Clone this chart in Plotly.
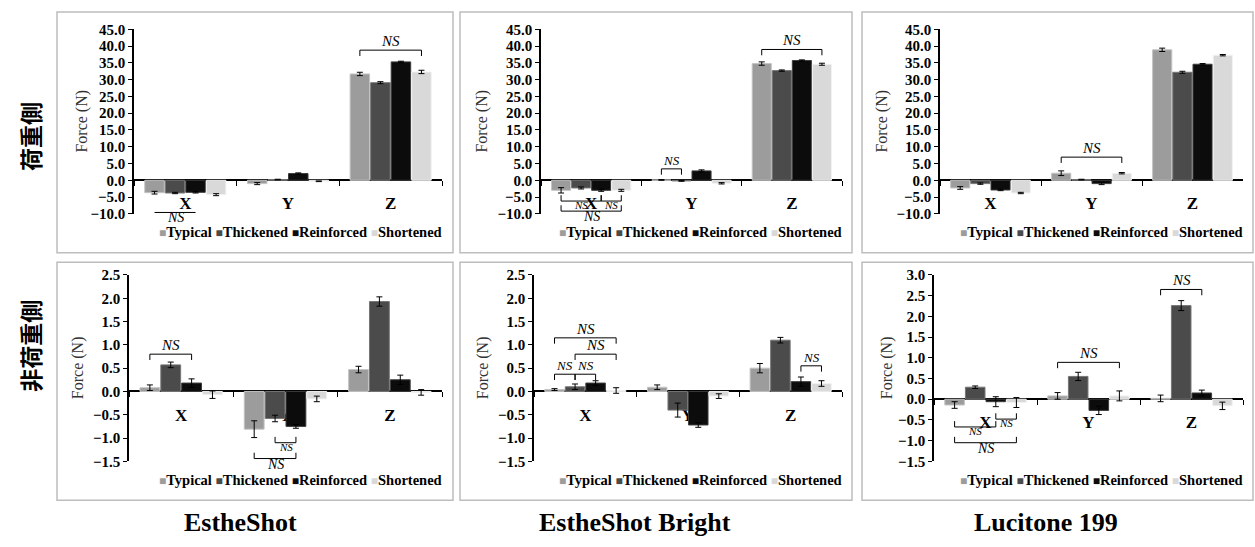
import plotly.graph_objects as go

W, H = 1255, 547

categories = ["X", "Y", "Z"]
series_names = ["Typical", "Thickened", "Reinforced", "Shortened"]
material_titles = ["EstheShot", "EstheShot Bright", "Lucitone 199"]
row_titles = ["荷重側", "非荷重側"]
y_title = "Force (N)"
ns_label = "NS"

# Mean force (N); rows = Typical, Thickened, Reinforced, Shortened ; columns = X, Y, Z
esthe_load = [[-3.7, -1.0, 31.7], [-3.8, 0.2, 29.1], [-3.6, 2.0, 35.3], [-4.3, -0.3, 32.3]]
esthe_load_sd = [[0.4, 0.3, 0.5], [0.2, 0.1, 0.3], [0.2, 0.2, 0.2], [0.3, 0.1, 0.5]]
bright_load = [[-3.0, 0.1, 34.8], [-2.3, -0.2, 32.7], [-3.0, 2.8, 35.7], [-3.0, -0.9, 34.6]]
bright_load_sd = [[0.8, 0.1, 0.5], [0.3, 0.1, 0.2], [0.3, 0.3, 0.2], [0.3, 0.2, 0.3]]
lucitone_load = [[-2.3, 2.1, 38.9], [-1.0, 0.2, 32.2], [-2.9, -1.0, 34.6], [-3.8, 2.1, 37.3]]
lucitone_load_sd = [[0.4, 0.7, 0.5], [0.2, 0.1, 0.3], [0.2, 0.3, 0.2], [0.2, 0.2, 0.2]]
esthe_free = [[0.08, -0.81, 0.47], [0.57, -0.58, 1.93], [0.18, -0.75, 0.25], [-0.07, -0.16, -0.02]]
esthe_free_sd = [[0.06, 0.18, 0.07], [0.06, 0.07, 0.10], [0.09, 0.04, 0.10], [0.08, 0.06, 0.06]]
bright_free = [[0.04, 0.09, 0.50], [0.10, -0.40, 1.10], [0.18, -0.72, 0.21], [0.02, -0.10, 0.17]]
bright_free_sd = [[0.02, 0.05, 0.10], [0.06, 0.15, 0.06], [0.05, 0.05, 0.10], [0.06, 0.05, 0.06]]
lucitone_free = [[-0.14, 0.08, 0.02], [0.29, 0.55, 2.26], [-0.06, -0.27, 0.15], [-0.08, 0.08, -0.16]]
lucitone_free_sd = [[0.08, 0.08, 0.08], [0.03, 0.10, 0.12], [0.12, 0.10, 0.07], [0.12, 0.12, 0.09]]

# NS brackets: (panel, category index, from series, to series, y level, side, font size)
ns_brackets = [
    (0, 2, 0, 3, 38.8, "above", 15),
    (0, 0, 0, 2, -9.6, "flat", 14),
    (1, 2, 0, 3, 39.0, "above", 15),
    (1, 1, 0, 1, 3.4, "above", 13),
    (1, 0, 0, 2, -6.2, "below", 11),
    (1, 0, 2, 3, -6.2, "below", 11),
    (1, 0, 0, 3, -9.2, "below", 14),
    (2, 1, 0, 3, 6.9, "above", 15),
    (3, 0, 0, 2, 0.80, "above", 15),
    (3, 1, 1, 2, -1.10, "below", 11),
    (3, 1, 0, 2, -1.44, "below", 14),
    (4, 0, 0, 3, 1.15, "above", 15),
    (4, 0, 1, 3, 0.80, "above", 15),
    (4, 0, 0, 1, 0.37, "above", 13),
    (4, 0, 1, 2, 0.37, "above", 13),
    (4, 2, 2, 3, 0.55, "above", 13),
    (5, 2, 0, 2, 2.65, "above", 15),
    (5, 1, 0, 3, 0.89, "above", 15),
    (5, 0, 2, 3, -0.48, "below", 11),
    (5, 0, 0, 2, -0.67, "below", 11),
    (5, 0, 0, 3, -1.05, "below", 14),
]

# ---------------- layout / styling ----------------
fills = ["#9c9c9c", "#4b4b4b", "#0c0c0c", "#d9d9d9"]
edges = ["#c4c4c4", "#767676", "#3c3c3c", "#f2f2f2"]
SERIF = "Liberation Serif"

panels = [
    dict(vals=esthe_load, sd=esthe_load_sd, xd=(134, 442), yd=(22, 212), yr=(-10, 45), dt=5, tx=82),
    dict(vals=bright_load, sd=bright_load_sd, xd=(541, 842), yd=(22, 212), yr=(-10, 45), dt=5, tx=482),
    dict(vals=lucitone_load, sd=lucitone_load_sd, xd=(940, 1243), yd=(22, 212), yr=(-10, 45), dt=5, tx=882),
    dict(vals=esthe_free, sd=esthe_free_sd, xd=(129, 442), yd=(275, 467), yr=(-1.5, 2.5), dt=0.5, tx=78),
    dict(vals=bright_free, sd=bright_free_sd, xd=(534, 842), yd=(275, 467), yr=(-1.5, 2.5), dt=0.5, tx=483),
    dict(vals=lucitone_free, sd=lucitone_free_sd, xd=(934, 1243), yd=(275, 467), yr=(-1.5, 3.0), dt=0.5, tx=887),
]
boxes = [(57, 4, 453, 252), (460, 4, 852, 252), (862, 4, 1253, 252),
         (57, 262, 453, 507), (460, 262, 852, 507), (862, 262, 1253, 507)]

BARGAP, GROUPGAP = 0.2, 0.05
nser = len(series_names)
slot = (1 - BARGAP) / nser


def px(x):
    return x / W


def py(y):
    return 1 - y / H


fig = go.Figure()
layout = dict(
    width=W, height=H, margin=dict(l=0, r=0, t=0, b=0),
    paper_bgcolor="white", plot_bgcolor="white",
    barmode="group", bargap=BARGAP, bargroupgap=GROUPGAP,
    showlegend=False, font=dict(family=SERIF, color="black"),
)
shapes, annotations = [], []

for i, p in enumerate(panels):
    n = "" if i == 0 else str(i + 1)
    xa, ya = "x" + n, "y" + n
    for s in range(nser):
        fig.add_trace(go.Bar(
            x=categories, y=p["vals"][s], name=series_names[s], xaxis=xa, yaxis=ya,
            marker=dict(color=fills[s], line=dict(color=edges[s], width=1)),
            error_y=dict(type="data", array=p["sd"][s], color="black", thickness=1, width=3),
        ))
    y0d, y1d = py(p["yd"][1]), py(p["yd"][0])
    ymin, ymax = p["yr"]
    zero_pos = y0d + (0 - ymin) / (ymax - ymin) * (y1d - y0d)
    layout["xaxis" + n] = dict(
        domain=[px(p["xd"][0]), px(p["xd"][1])], anchor="free", position=zero_pos,
        type="category", showline=True, linecolor="black", linewidth=1.5,
        ticks="outside", tickson="boundaries", ticklen=5, tickcolor="black",
        ticklabelstandoff=8, layer="below traces",
        tickfont=dict(family=SERIF, size=17, weight="bold", color="black"),
        showgrid=False, zeroline=False, fixedrange=True,
    )
    layout["yaxis" + n] = dict(
        domain=[y0d, y1d], anchor=xa, range=[ymin, ymax], dtick=p["dt"], tick0=0,
        tickformat=".1f", showline=True, linecolor="black", linewidth=1.5,
        ticks="outside", ticklen=4, tickcolor="black",
        tickfont=dict(family=SERIF, size=15, weight="bold", color="black"),
        showgrid=False, zeroline=False, fixedrange=True,
    )
    # y-axis title
    annotations.append(dict(
        text=y_title, xref="paper", yref="paper", x=px(p["tx"]), y=(y0d + y1d) / 2,
        textangle=-90, showarrow=False, xanchor="center", yanchor="middle",
        font=dict(family=SERIF, size=16, color="#333333"),
    ))
    # legend row (per panel)
    leg = " ".join(
        f'<span style="color:{fills[s]};font-size:12px">■</span>{series_names[s]}'
        for s in range(nser)
    )
    annotations.append(dict(
        text=leg, xref="paper", yref="paper", x=px(p["xd"][1] + 2),
        y=py(p["yd"][1] + 19), xanchor="right", yanchor="middle",
        showarrow=False, font=dict(family=SERIF, size=14.5, weight="bold", color="black"),
    ))
    # panel border
    bx = boxes[i]
    shapes.append(dict(type="rect", xref="paper", yref="paper",
                       x0=px(bx[0]), x1=px(bx[2]), y0=py(bx[3]), y1=py(bx[1]),
                       line=dict(color="#bdbdbd", width=1.5), layer="below"))

# NS brackets
for (pi, c, s0, s1, yl, side, fs) in ns_brackets:
    p = panels[pi]
    n = "" if pi == 0 else str(pi + 1)
    ymin, ymax = p["yr"]
    units_per_px = (ymax - ymin) / (p["yd"][1] - p["yd"][0])
    tick = 6 * units_per_px
    xa0 = c - (1 - BARGAP) / 2 + slot * (s0 + 0.5)
    xa1 = c - (1 - BARGAP) / 2 + slot * (s1 + 0.5)
    if side == "above":
        path = f"M{xa0},{yl - tick} L{xa0},{yl} L{xa1},{yl} L{xa1},{yl - tick}"
    elif side == "below":
        path = f"M{xa0},{yl + tick} L{xa0},{yl} L{xa1},{yl} L{xa1},{yl + tick}"
    else:
        path = f"M{xa0},{yl} L{xa1},{yl}"
    shapes.append(dict(type="path", xref="x" + n, yref="y" + n, path=path,
                       line=dict(color="black", width=1)))
    annotations.append(dict(
        text=f"<i>{ns_label}</i>", xref="x" + n, yref="y" + n, x=(xa0 + xa1) / 2, y=yl,
        xanchor="center", yanchor="bottom" if side == "above" else "top",
        yshift=-1 if side == "above" else 4, showarrow=False,
        font=dict(family=SERIF, size=fs, color="black"),
    ))

# row labels
for r, (title, yc) in enumerate(zip(row_titles, [133, 348])):
    annotations.append(dict(
        text=title, xref="paper", yref="paper", x=px(30), y=py(yc), textangle=-90,
        showarrow=False, xanchor="center", yanchor="middle",
        font=dict(family="Noto Sans CJK JP", size=23, weight="bold", color="black"),
    ))
# column titles
for title, xc in zip(material_titles, [240, 635, 1046]):
    annotations.append(dict(
        text=title, xref="paper", yref="paper", x=px(xc), y=py(530),
        showarrow=False, xanchor="center", yanchor="middle",
        font=dict(family=SERIF, size=26, weight="bold", color="black"),
    ))

layout["shapes"] = shapes
layout["annotations"] = annotations
fig.update_layout(**layout)
fig.write_html("out.html")
